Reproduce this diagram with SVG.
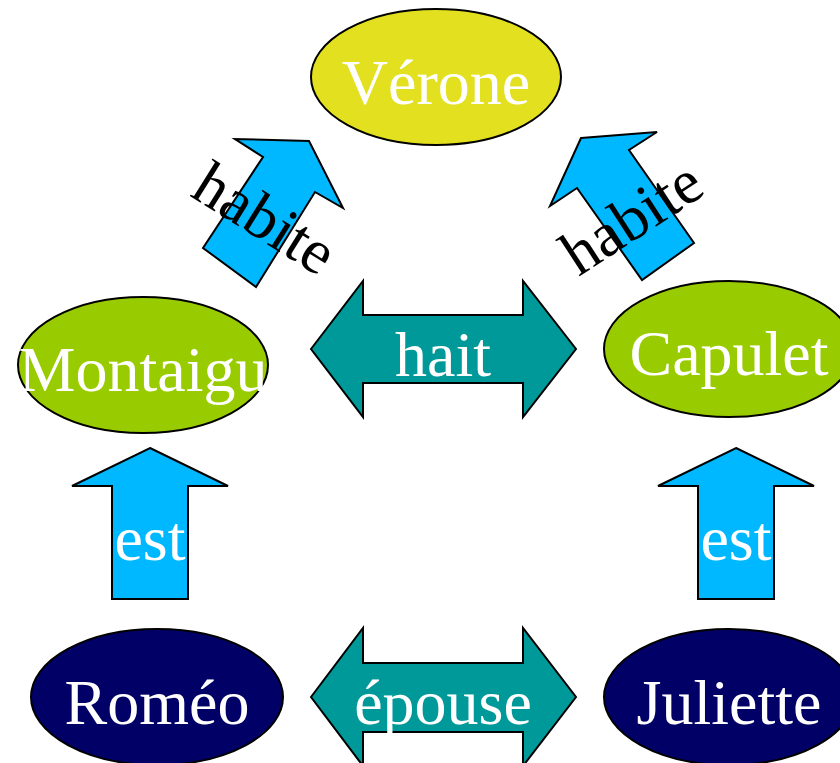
<svg xmlns="http://www.w3.org/2000/svg" width="840" height="763" viewBox="0 0 840 763">
<style>
.s{stroke:#000;stroke-width:2;stroke-linejoin:miter}
.t{font-family:"Liberation Serif",serif;font-size:64px;fill:#fff;text-anchor:middle}
.b{font-family:"Liberation Serif",serif;font-size:63px;fill:#000;text-anchor:middle}
.blue{fill:#00b8ff}
.teal{fill:#009999}
</style>
<rect width="840" height="763" fill="#fff"/>
<g id="connectors">
<g id="habite-left"><polygon class="s blue" points="309,141 343,208 315,192 256,287 203,248 263,157 235,139"/><text class="b" transform="translate(254,236) rotate(32)">habite</text></g>
<g id="habite-right"><polygon class="s blue" points="581,138 657,132 629,150 694,243 642,280 577,188 550,206"/><text class="b" transform="translate(643,235) rotate(-33)">habite</text></g>
<g id="hait"><polygon class="s teal" points="311,349 363,281 363,315 523,315 523,281 576,349 523,417 523,383 363,383 363,417"/><text class="t" x="443" y="376">hait</text></g>
<g id="epouse"><polygon class="s teal" points="311,697 363,628 363,663 523,663 523,628 576,697 523,766 523,732 363,732 363,766"/><text class="t" x="443" y="724">épouse</text></g>
<g id="est-left"><polygon class="s blue" points="150,448 228,486 188,486 188,599 112,599 112,486 72,486"/><text class="t" x="150" y="560">est</text></g>
<g id="est-right"><polygon class="s blue" points="736,448 814,486 774,486 774,599 698,599 698,486 658,486"/><text class="t" x="736" y="560">est</text></g>
</g>
<g id="verone"><ellipse class="s" cx="436" cy="77" rx="125" ry="68" fill="#e3e01f"/><text class="t" x="436" y="104">Vérone</text></g>
<g id="montaigu"><ellipse class="s" cx="143" cy="365" rx="125" ry="68" fill="#99cc00"/><text class="t" x="143" y="391">Montaigu</text></g>
<g id="capulet"><ellipse class="s" cx="729" cy="349" rx="125" ry="68" fill="#99cc00"/><text class="t" x="729" y="375">Capulet</text></g>
<g id="romeo"><ellipse class="s" cx="157" cy="697" rx="126" ry="68" fill="#000066"/><text class="t" x="157" y="724">Roméo</text></g>
<g id="juliette"><ellipse class="s" cx="729" cy="697" rx="125" ry="68" fill="#000066"/><text class="t" x="729" y="724">Juliette</text></g>
</svg>
